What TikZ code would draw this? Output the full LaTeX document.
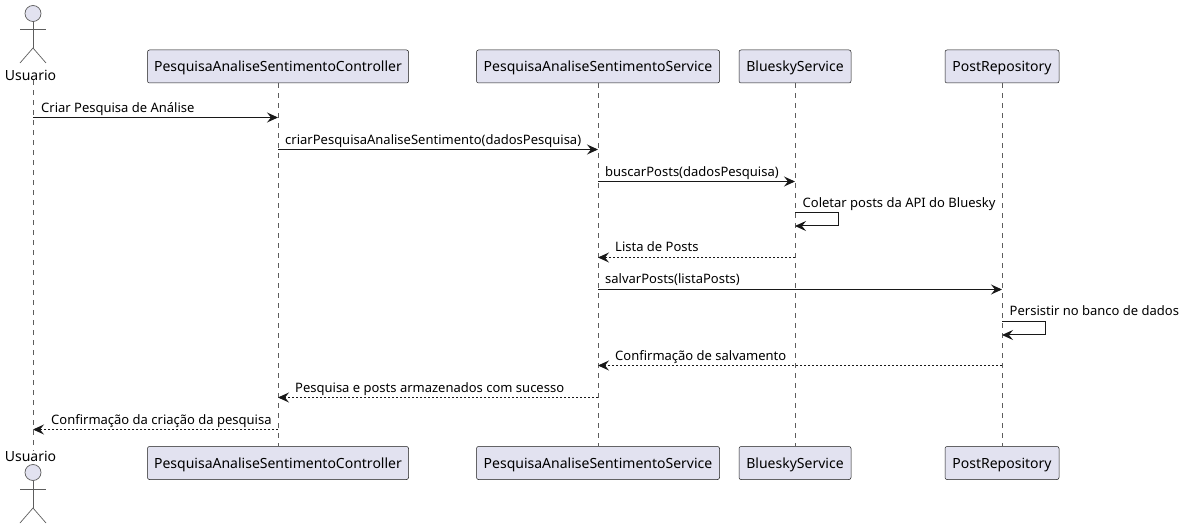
\documentclass[tikz,border=0pt]{standalone}
\usepackage{fontspec}
\setmainfont{Noto Sans}
\usetikzlibrary{arrows.meta}
\definecolor{partfill}{HTML}{E2E2F0}
\definecolor{partline}{HTML}{181818}
\tikzset{
	part/.style={draw=partline, fill=partfill, line width=0.5pt, rounded corners=2pt, minimum height=33pt, inner sep=0pt, text height=12pt, text depth=2pt, font=\fontsize{14}{16}\selectfont},
	actorname/.style={inner sep=0pt, font=\fontsize{14}{16}\selectfont},
	actorline/.style={draw=partline!70, line width=0.7pt},
	lifeline/.style={draw=partline!70, line width=0.6pt, dash pattern=on 5pt off 5pt},
	call/.style={draw=partline, line width=1pt, -{Stealth[length=11pt,width=10pt,inset=4pt]}},
	reply/.style={call, dash pattern=on 2pt off 2pt},
	msg/.style={anchor=base west, inner sep=0pt, text=black, font=\fontsize{13}{15}\selectfont},
}
\begin{document}
\begin{tikzpicture}[x=1pt, y=-1pt]
	\useasboundingbox (0, 0) rectangle (1184, 529);
	
	%%%%% PARTICIPANTS %%%%%
	\node[actorname] (userT) at (30.5, 75) {Usuario};
	\node[actorname] (userB) at (30.5, 456) {Usuario};
	\coordinate (userL) at (33, 0);
	\node[part, minimum width=261pt] (ctrlT) at (278, 66.5) {PesquisaAnaliseSentimentoController};
	\node[part, minimum width=261pt] (ctrlB) at (278, 463) {PesquisaAnaliseSentimentoController};
	\node[part, minimum width=243pt] (servT) at (598, 66.5) {PesquisaAnaliseSentimentoService};
	\node[part, minimum width=243pt] (servB) at (598, 463) {PesquisaAnaliseSentimentoService};
	\node[part, minimum width=112pt] (blueT) at (795, 66.5) {BlueskyService};
	\node[part, minimum width=112pt] (blueB) at (795, 463) {BlueskyService};
	\node[part, minimum width=114pt] (postT) at (1002, 66.5) {PostRepository};
	\node[part, minimum width=114pt] (postB) at (1002, 463) {PostRepository};
	
	%%%%% LIFELINES %%%%%
	\draw[lifeline] (userL |- userT.south) -- (userL |- userB.north);
	\draw[lifeline] (ctrlT.south) -- (ctrlB.north);
	\draw[lifeline] (servT.south) -- (servB.north);
	\draw[lifeline] (blueT.south) -- (blueB.north);
	\draw[lifeline] (postT.south) -- (postB.north);
	
	%%%%% ACTORS %%%%%
	\draw[actorline, fill=partfill] (33, 13.5) circle (8);
	\draw[actorline] (33, 21.5) -- (33, 48);
	\draw[actorline] (20, 29) -- (46, 29);
	\draw[actorline] (20, 63) -- (33, 48) -- (46, 63);
	
	\draw[actorline, fill=partfill] (33, 472.5) circle (8);
	\draw[actorline] (33, 480.5) -- (33, 508);
	\draw[actorline] (20, 489) -- (46, 489);
	\draw[actorline] (20, 523) -- (33, 508) -- (46, 523);
	
	%%%%% MESSAGES %%%%%
	\coordinate (m1) at (0, 117.5);
	\coordinate (m2) at (0, 149.5);
	\coordinate (m3) at (0, 181.5);
	\coordinate (m4) at (0, 212.5);
	\coordinate (m4b) at (0, 226);
	\coordinate (m5) at (0, 257.5);
	\coordinate (m6) at (0, 289.5);
	\coordinate (m7) at (0, 321.5);
	\coordinate (m7b) at (0, 335);
	\coordinate (m8) at (0, 365.5);
	\coordinate (m9) at (0, 397.5);
	\coordinate (m10) at (0, 429.5);
	
	\draw[call] (userL |- m1) -- (ctrlT |- m1);
	\node[msg] (t1) at (41, 112.5) {Criar Pesquisa de Análise};
	\draw[call] (ctrlT |- m2) -- (servT |- m2);
	\node[msg] (t2) at (285, 144.5) {criarPesquisaAnaliseSentimento(dadosPesquisa)};
	\draw[call] (servT |- m3) -- (blueT |- m3);
	\node[msg] (t3) at (605, 176.5) {buscarPosts(dadosPesquisa)};
	
	\draw[call] (blueT |- m4) -- +(43, 0) -- +(43, 13.5) -- (blueT |- m4b);
	\node[msg] (t4) at (802.5, 207.5) {Coletar posts da API do Bluesky};
	
	\draw[reply] (blueT |- m5) -- (servT |- m5);
	\node[msg] (t5) at (615, 252) {Lista de Posts};
	\draw[call] (servT |- m6) -- (postT |- m6);
	\node[msg] (t6) at (605, 284) {salvarPosts(listaPosts)};
	
	\draw[call] (postT |- m7) -- +(43, 0) -- +(43, 13.5) -- (postT |- m7b);
	\node[msg] (t7) at (1009.5, 316) {Persistir no banco de dados};
	
	\draw[reply] (postT |- m8) -- (servT |- m8);
	\node[msg] (t8) at (615, 360.5) {Confirmação de salvamento};
	\draw[reply] (servT |- m9) -- (ctrlT |- m9);
	\node[msg] (t9) at (295, 392.5) {Pesquisa e posts armazenados com sucesso};
	\draw[reply] (ctrlT |- m10) -- (userL |- m10);
	\node[msg] (t10) at (51, 424.5) {Confirmação da criação da pesquisa};
	
\end{tikzpicture}
\end{document}
